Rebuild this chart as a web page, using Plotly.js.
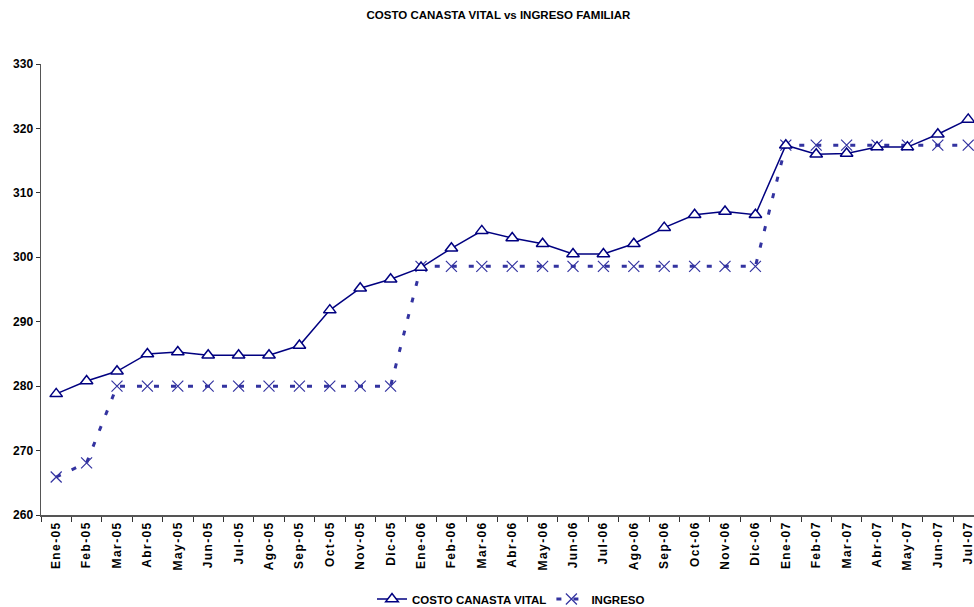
<!DOCTYPE html>
<html>
<head>
<meta charset="utf-8">
<script src="https://cdn.plot.ly/plotly-3.0.1.min.js"></script>
<style>
  html, body { margin: 0; padding: 0; background: #fff; }
  #chart { width: 974px; height: 607px; }
  .xtick text { letter-spacing: 1.4px; }
</style>
</head>
<body>
<div id="chart"></div>
<script>
const months = ['Ene-05','Feb-05','Mar-05','Abr-05','May-05','Jun-05','Jul-05','Ago-05','Sep-05','Oct-05','Nov-05','Dic-05',
                'Ene-06','Feb-06','Mar-06','Abr-06','May-06','Jun-06','Jul-06','Ago-06','Sep-06','Oct-06','Nov-06','Dic-06',
                'Ene-07','Feb-07','Mar-07','Abr-07','May-07','Jun-07','Jul-07'];
const costoCanasta = [278.8, 280.8, 282.3, 285.0, 285.3, 284.8, 284.8, 284.8, 286.3, 291.8, 295.2, 296.6,
                      298.4, 301.4, 304.1, 303.0, 302.1, 300.5, 300.5, 302.1, 304.6, 306.6, 307.1, 306.6,
                      317.4, 316.0, 316.1, 317.1, 317.1, 319.1, 321.4];
const ingreso = [265.9, 268.1, 280.0, 280.0, 280.0, 280.0, 280.0, 280.0, 280.0, 280.0, 280.0, 280.0,
                 298.6, 298.6, 298.6, 298.6, 298.6, 298.6, 298.6, 298.6, 298.6, 298.6, 298.6, 298.6,
                 317.4, 317.4, 317.4, 317.4, 317.4, 317.4, 317.4];
const seriesNames = ['COSTO CANASTA VITAL', 'INGRESO'];
const yTicks = [260, 270, 280, 290, 300, 310, 320, 330];

const font = 'Liberation Sans, Arial, sans-serif';

const traces = [
  {
    x: months, y: ingreso, name: seriesNames[1], type: 'scatter', mode: 'lines+markers',
    line: { color: '#3333a0', width: 3, dash: '5px,12px' },
    marker: { symbol: 'x-thin-open', size: 11, color: '#3333a0', line: { color: '#3333a0', width: 1.2 } }
  },
  {
    x: months, y: costoCanasta, name: seriesNames[0], type: 'scatter', mode: 'lines+markers',
    line: { color: '#000080', width: 1.5 },
    marker: { symbol: 'triangle-up', size: 11, color: '#ffffff', line: { color: '#000080', width: 1.5 } }
  }
];

const layout = {
  width: 974, height: 607,
  margin: { l: 41, r: 0, t: 64, b: 92 },
  paper_bgcolor: '#ffffff', plot_bgcolor: '#ffffff',
  showlegend: true,
  title: {
    text: '<b>COSTO CANASTA VITAL vs INGRESO FAMILIAR</b>',
    font: { family: font, size: 11.5, color: '#000' },
    x: 498.5 / 974, xref: 'container', xanchor: 'center',
    y: 1 - 15 / 607, yref: 'container', yanchor: 'middle'
  },
  xaxis: {
    type: 'category',
    automargin: false,
    range: [-0.5, 30.19],
    tickson: 'boundaries',
    ticks: 'outside', ticklen: 5, tickwidth: 1, tickcolor: '#333',
    showline: true, linecolor: '#555', linewidth: 1.5,
    showgrid: false, zeroline: false,
    tickangle: -90,
    tickfont: { family: font, size: 12, color: '#000', weight: 'bold' },
    fixedrange: true
  },
  yaxis: {
    automargin: false,
    range: [260, 330],
    tickvals: yTicks,
    ticks: 'outside', ticklen: 4, tickwidth: 1, tickcolor: '#333',
    showline: true, linecolor: '#555', linewidth: 1.5,
    showgrid: false, zeroline: false,
    tickfont: { family: font, size: 12, color: '#000', weight: 'bold' },
    fixedrange: true
  },
  legend: {
    orientation: 'h',
    traceorder: 'reversed',
    xref: 'container', yref: 'container',
    x: 372 / 974, xanchor: 'left',
    y: 1 - 599 / 607, yanchor: 'middle',
    itemwidth: 30,
    font: { family: font, size: 11.5, color: '#000', weight: 'bold' },
    bgcolor: 'rgba(0,0,0,0)'
  }
};

Plotly.newPlot('chart', traces, layout, { displayModeBar: false, staticPlot: true });
</script>
</body>
</html>
